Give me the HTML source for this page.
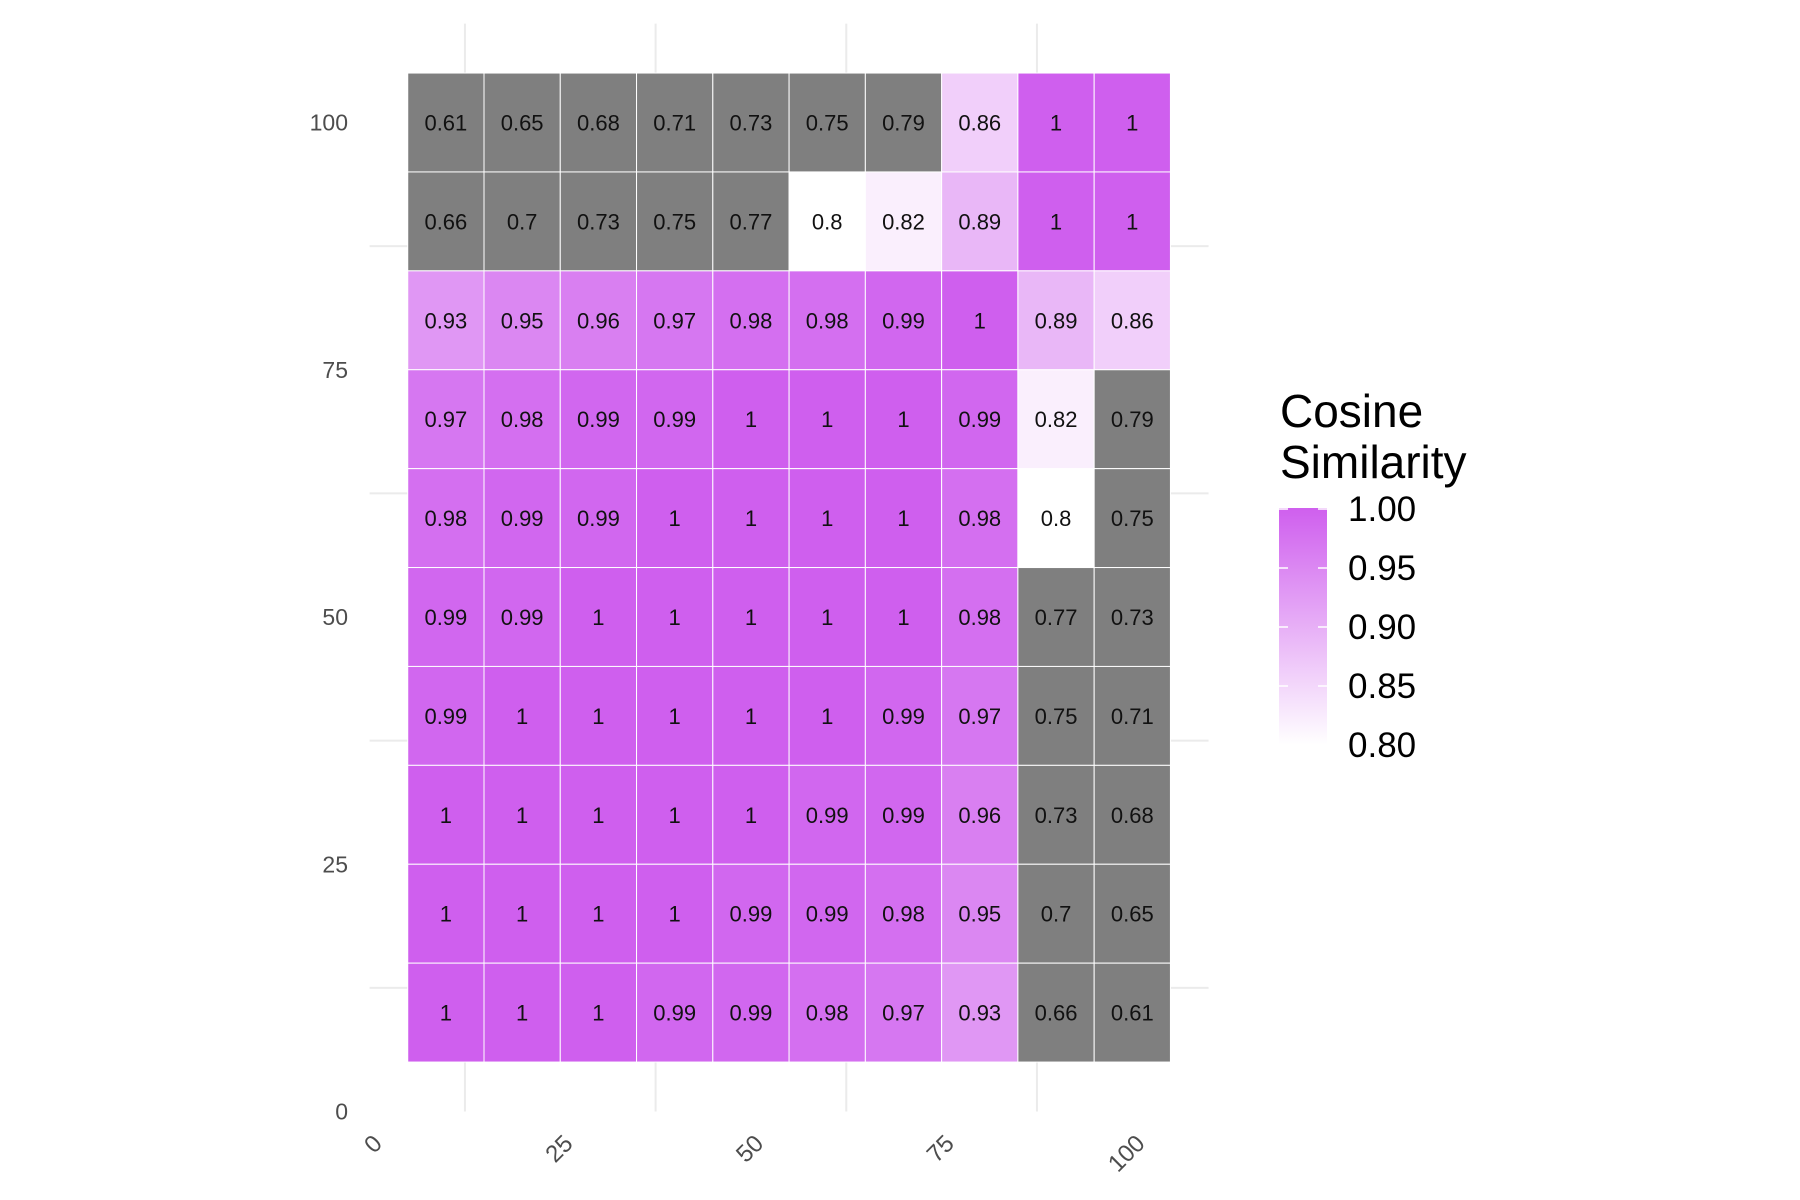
<!DOCTYPE html>
<html><head><meta charset="utf-8"><style>
html,body{margin:0;padding:0;background:#fff;}
svg{display:block;font-family:"Liberation Sans","DejaVu Sans",sans-serif;}
</style></head><body>
<svg id="chart" width="1800" height="1200" viewBox="0 0 1800 1200" xmlns="http://www.w3.org/2000/svg">
<defs>
<linearGradient id="cb" x1="0" y1="1" x2="0" y2="0">
<stop offset="0" stop-color="#ffffff"/><stop offset="1" stop-color="#cf5fee"/>
</linearGradient>
</defs>
<g id="grid"></g>
<g id="tiles"></g>
<g id="axes"></g>
<g id="legend">
<text x="1280" y="427" font-size="46" fill="#000">Cosine</text>
<text x="1280" y="478" font-size="46" fill="#000">Similarity</text>
<rect x="1279" y="508" width="48" height="237" fill="url(#cb)"/>
</g>
</svg>
<script>
const xCats = [10,20,30,40,50,60,70,80,90,100];
const yCats = [100,90,80,70,60,50,40,30,20,10];
const row100 = [0.61,0.65,0.68,0.71,0.73,0.75,0.79,0.86,1,1];
const row90  = [0.66,0.7,0.73,0.75,0.77,0.8,0.82,0.89,1,1];
const row80  = [0.93,0.95,0.96,0.97,0.98,0.98,0.99,1,0.89,0.86];
const row70  = [0.97,0.98,0.99,0.99,1,1,1,0.99,0.82,0.79];
const row60  = [0.98,0.99,0.99,1,1,1,1,0.98,0.8,0.75];
const row50  = [0.99,0.99,1,1,1,1,1,0.98,0.77,0.73];
const row40  = [0.99,1,1,1,1,1,0.99,0.97,0.75,0.71];
const row30  = [1,1,1,1,1,0.99,0.99,0.96,0.73,0.68];
const row20  = [1,1,1,1,0.99,0.99,0.98,0.95,0.7,0.65];
const row10  = [1,1,1,0.99,0.99,0.98,0.97,0.93,0.66,0.61];
const rows = [row100,row90,row80,row70,row60,row50,row40,row30,row20,row10];
const xTicks = [0,25,50,75,100];
const yTicks = [0,25,50,75,100];
const minorTicks = [12.5,37.5,62.5,87.5];
const legendTicks = [1.00,0.95,0.90,0.85,0.80];

const NS="http://www.w3.org/2000/svg";
const X0=369.6, XS=7.627, Y0=1111.5, YS=9.89;
const sx=v=>X0+v*XS, sy=v=>Y0-v*YS;
function mk(tag,attrs,parent){const e=document.createElementNS(NS,tag);for(const k in attrs)e.setAttribute(k,attrs[k]);parent.appendChild(e);return e;}
function color(v){
  if(v<0.8) return "#7f7f7f";
  const t=Math.min(1,(v-0.8)/0.2);
  const r=Math.round(255+(207-255)*t),g=Math.round(255+(95-255)*t),b=Math.round(255+(238-255)*t);
  return `rgb(${r},${g},${b})`;
}
const grid=document.getElementById('grid');
minorTicks.forEach(t=>{
  const l1=mk('line',{x1:sx(t),x2:sx(t),y1:sy(110),y2:sy(0),stroke:'#ebebeb','stroke-width':2},grid);
  
  
  const l2=mk('line',{x1:sx(0),x2:sx(110),y1:sy(t),y2:sy(t),stroke:'#ebebeb','stroke-width':2},grid);
  
  
});
const tiles=document.getElementById('tiles');
rows.forEach((row,ri)=>{
  const yv=yCats[ri];
  row.forEach((v,ci)=>{
    const xv=xCats[ci];
    const r=mk('rect',{x:sx(xv-5),y:sy(yv+5),width:10*XS,height:10*YS,fill:color(v),stroke:'#ffffff','stroke-width':1},tiles);
    
    
    const t=mk('text',{x:sx(xv),y:sy(yv)+8,'text-anchor':'middle','font-size':22,fill:'#111'},tiles);
    
    
    t.textContent=String(v);
  });
});
const axes=document.getElementById('axes');
yTicks.forEach(v=>{
  const t=mk('text',{x:348,y:sy(v)+8,'text-anchor':'end','font-size':23,fill:'#4d4d4d'},axes);
  
  
  t.textContent=v;
});
xTicks.forEach(v=>{
  const x=sx(v)+2,y=1133;
  const t=mk('text',{x:x,y:y,'text-anchor':'end','font-size':24,fill:'#4d4d4d',transform:`rotate(-45 ${x} ${y})`,'dominant-baseline':'hanging'},axes);
  
  
  t.textContent=v;
});
const legend=document.getElementById('legend');
const LB=745, LT=509;
legendTicks.forEach(v=>{
  const y=LB-(v-0.8)/0.2*(LB-LT);
  mk('line',{x1:1279,x2:1288,y1:y,y2:y,stroke:'#fff','stroke-width':1.5},legend);
  mk('line',{x1:1318,x2:1327,y1:y,y2:y,stroke:'#fff','stroke-width':1.5},legend);
  const t=mk('text',{x:1348,y:y+12,'font-size':35,fill:'#000'},legend);
  
  
  t.textContent=v.toFixed(2);
});
</script>
</body></html>
